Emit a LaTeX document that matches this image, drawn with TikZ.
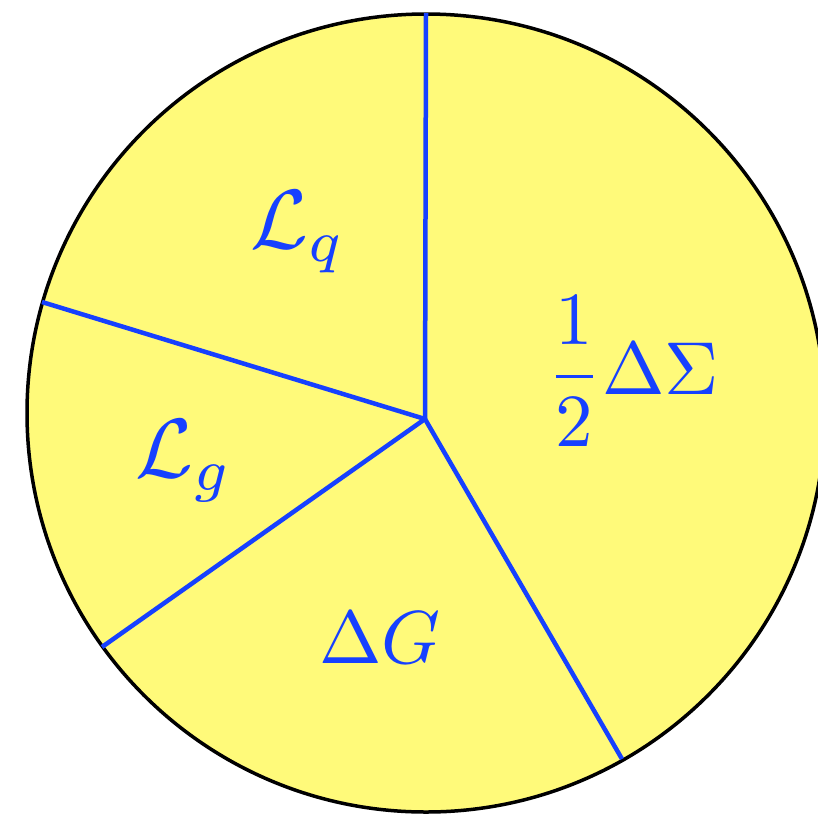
\documentclass[tikz,border=0pt]{standalone}
\definecolor{pieyellow}{RGB}{255,250,122}
\definecolor{pieblue}{RGB}{22,64,255}
\newcommand{\biglbl}[1]{\scalebox{7.5}{#1}}
\newcommand{\callbl}[1]{\scalebox{8.4}{#1}}
\begin{document}
\begin{tikzpicture}[x=1pt,y=-1pt,
  spoke/.style={draw=pieblue,line width=4.5pt},
  lbl/.style={text=pieblue,inner sep=0pt}]
\useasboundingbox (0,0) rectangle (818,817);
\clip (0,0) rectangle (818,817);
\draw[fill=pieyellow,draw=black,line width=3.5pt] (426,413) circle[radius=399];
\coordinate (S) at (425,419);
\coordinate (T) at (426,13);
\coordinate (L) at (42,302);
\coordinate (LL) at (102,647);
\coordinate (LR) at (622,759);
\draw[spoke] (S) -- (T);
\draw[spoke] (S) -- (L);
\draw[spoke] (S) -- (LL);
\draw[spoke] (S) -- (LR);
\node[lbl] (lq) at (298,232) {\callbl{$\mathcal{L}_q$}};
\node[lbl] (sig) at (633,371) {\biglbl{$\displaystyle\frac{1}{2}\Delta\Sigma$}};
\node[lbl] (lg) at (184,461) {\callbl{$\mathcal{L}_g$}};
\node[lbl] (dg) at (380,638) {\biglbl{$\Delta G$}};
\end{tikzpicture}
\end{document}
